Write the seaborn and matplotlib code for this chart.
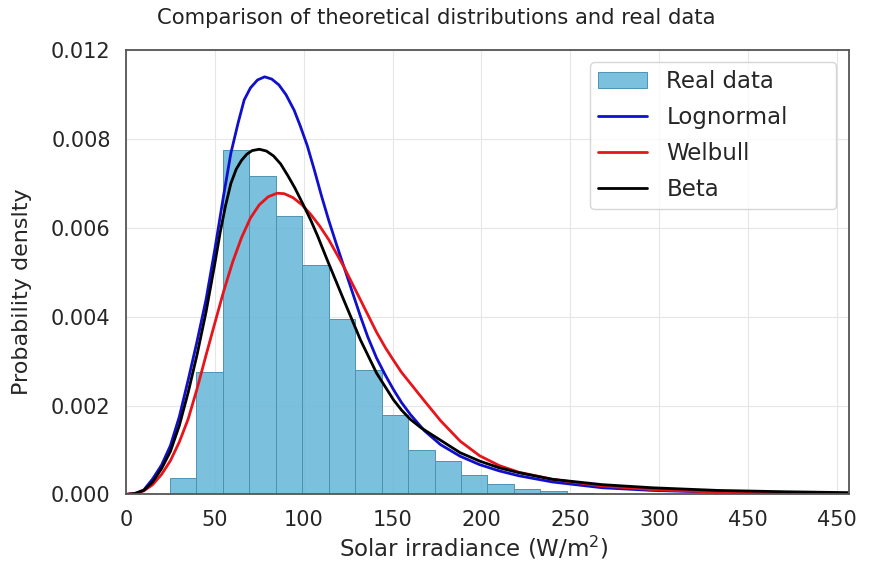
import numpy as np
import pandas as pd
import seaborn as sns
import matplotlib.pyplot as plt
from matplotlib.patches import Patch

sns.set_theme(style="whitegrid")
plt.rcParams['font.family'] = ['DejaVu Sans']

# histogram of the real data (bin edges in W/m2, density per bin)
bin_edges = [24.7, 39.6, 54.5, 69.4, 84.2, 99.1, 114.0, 128.9, 143.8, 158.7,
             173.6, 188.5, 203.3, 218.2, 233.1, 248.0, 262.9, 277.8, 292.7]
bin_density = [0.00036, 0.00276, 0.00775, 0.00717, 0.00627, 0.00517, 0.00396,
               0.00279, 0.00178, 0.00101, 0.00075, 0.00043, 0.00023, 0.00013,
               0.00007, 0.00004, 0.00002, 0.00001]

# theoretical curves (density x 1000)
logn_x = [0, 5, 10, 15, 20, 25, 30, 35, 40, 45, 50, 55, 59, 63, 66.5, 70, 74,
          78, 82, 86, 90, 94.6, 98, 102, 106, 110, 114, 118, 124.4, 131.9, 136,
          141, 146, 150.5, 155, 160, 168, 177, 188, 199, 210, 221, 240, 268,
          296, 333, 371, 407]
logn_y = [0, 0.02, 0.10, 0.35, 0.66, 1.10, 1.75, 2.58, 3.45, 4.38, 5.52, 6.75,
          7.68, 8.35, 8.88, 9.15, 9.33, 9.40, 9.35, 9.22, 9.00, 8.65, 8.30,
          7.85, 7.30, 6.72, 6.18, 5.68, 4.91, 4.01, 3.55, 3.07, 2.68, 2.36,
          2.07, 1.80, 1.43, 1.12, 0.86, 0.67, 0.53, 0.42, 0.28, 0.15, 0.09,
          0.05, 0.03, 0.02]

weib_x = [0, 5, 10, 15, 20, 25, 30, 35, 40, 45, 50, 55, 60, 65, 70, 75, 80,
          85, 89, 94, 99, 104, 109, 114, 122.5, 131.9, 141, 146, 150.5, 155,
          160, 168, 177, 188, 199, 210, 221, 240, 268, 296, 333, 371, 407]
weib_y = [0, 0.02, 0.08, 0.22, 0.45, 0.76, 1.18, 1.70, 2.38, 3.13, 3.86, 4.58,
          5.23, 5.78, 6.22, 6.52, 6.70, 6.78, 6.77, 6.68, 6.52, 6.30, 6.04,
          5.74, 5.13, 4.38, 3.65, 3.30, 3.02, 2.75, 2.50, 2.10, 1.66, 1.20,
          0.87, 0.65, 0.50, 0.34, 0.19, 0.11, 0.05, 0.03, 0.02]

beta_x = [0, 5, 10, 15, 20, 25, 30, 35, 40, 45, 50, 53, 56, 59, 62, 65, 68, 71,
          75, 79, 83, 87, 91, 95, 100, 104, 108, 113, 122.5, 131.9, 141, 150.5,
          155, 160, 166, 177, 188, 199, 210, 221, 240, 268, 296, 333, 371, 407]
beta_y = [0, 0.02, 0.09, 0.28, 0.58, 0.97, 1.55, 2.30, 3.15, 4.10, 5.20, 5.90,
          6.50, 7.00, 7.32, 7.52, 7.66, 7.74, 7.77, 7.73, 7.62, 7.44, 7.18,
          6.90, 6.50, 6.17, 5.80, 5.30, 4.38, 3.48, 2.73, 2.13, 1.90, 1.69,
          1.50, 1.22, 0.94, 0.75, 0.60, 0.49, 0.34, 0.22, 0.15, 0.09, 0.06,
          0.04]

xtick_pos = [0, 50, 100, 150, 200, 250, 300, 350, 400]
xtick_lab = ["0", "50", "100", "150", "200", "250", "300", "450", "450"]
ytick_pos = [0, 0.002, 0.004, 0.006, 0.008, 0.010]
ytick_lab = ["0.000", "0.002", "0.004", "0.006", "0.008", "0.012"]

centers = [(bin_edges[i] + bin_edges[i + 1]) / 2 for i in range(len(bin_density))]
hist_df = pd.DataFrame({"x": centers, "w": bin_density})

fig = plt.figure(figsize=(8.72, 5.67), dpi=100)
ax = fig.add_axes([0.1445, 0.128, 0.974 - 0.1445, 0.9115 - 0.128])

sns.histplot(data=hist_df, x="x", weights="w", bins=bin_edges, stat="count",
             color="#6db9da", edgecolor="#4b93b5", linewidth=0.7, alpha=0.9,
             ax=ax, label="Real data")

curves = [("Lognormal", logn_x, logn_y, "#1010cc"),
          ("Welbull", weib_x, weib_y, "#e8141c"),
          ("Beta", beta_x, beta_y, "black")]
for name, xs, ys, col in curves:
    sns.lineplot(x=xs, y=np.array(ys) / 1000, color=col, lw=2, label=name, ax=ax)

ax.set_xlim(0.5, 407)
ax.set_ylim(0, 0.010)
ax.set_xticks(xtick_pos)
ax.set_xticklabels(xtick_lab)
ax.set_yticks(ytick_pos)
ax.set_yticklabels(ytick_lab)
ax.tick_params(labelsize=15, pad=5)
ax.grid(color="#e6e6e6", lw=0.8)
for s in ax.spines.values():
    s.set_color("#555555")
    s.set_linewidth(1.3)

ax.set_xlabel("Solar irradiance (W/m$^2$)", fontsize=16.5)
ax.xaxis.label.set_va("center")
ax.xaxis.set_label_coords(0.481, -0.120)
ax.set_ylabel("Probability denslty", fontsize=16)
ax.yaxis.label.set_va("center")
ax.yaxis.label.set_ha("center")
ax.yaxis.set_label_coords(-0.1438, 0.456)
fig.text(0.5, 1 - 18 / 567, "Comparison of theoretical distributions and real data",
         fontsize=15.2, ha="center", va="center", color="#222222")

handles, labels = ax.get_legend_handles_labels()
hmap = dict(zip(labels, handles))
if "Real data" not in hmap:
    hmap["Real data"] = Patch(facecolor="#6db9da", alpha=0.9)
order = ["Real data", "Lognormal", "Welbull", "Beta"]
ax.legend([hmap[k] for k in order], order, loc="upper left", fontsize=16.5,
          bbox_to_anchor=(0.642, 0.973, 0.340, 0.0), mode="expand",
          borderaxespad=0, handlelength=2.1, handletextpad=0.87,
          borderpad=0.35, labelspacing=0.57, frameon=True)

fig.savefig("out.png", dpi=100)
